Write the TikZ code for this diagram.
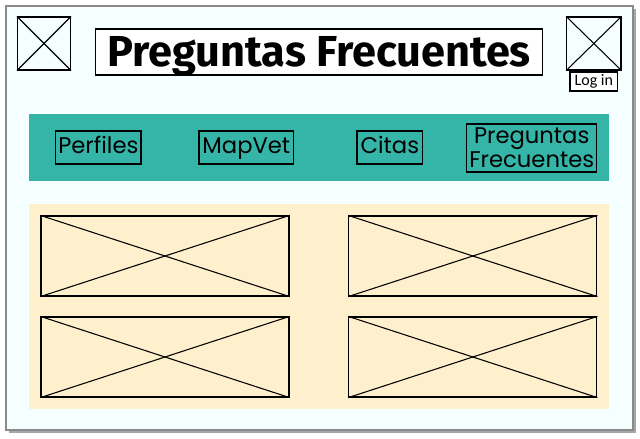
\documentclass[tikz,border=0pt]{standalone}
\usepackage{fontspec}
\newfontfamily\titlefont{Fira Sans}
\newfontfamily\menufont{Poppins}
\newfontfamily\loginfont{Carlito}
\definecolor{pagebg}{HTML}{F5FFFF}
\definecolor{bandteal}{HTML}{35B5A8}
\definecolor{gridbeige}{HTML}{FFF0CD}
\definecolor{framegray}{HTML}{8A8A8A}
\tikzset{
  imgbox/.style={draw=black, line width=0.9pt, inner sep=0pt},
  menubox/.style={draw=black, line width=0.8pt, inner sep=0pt, minimum height=24.75pt,
    text height=12pt, text depth=3.5pt, font=\menufont\fontsize{17}{17}\selectfont, align=center},
}
\begin{document}
\begin{tikzpicture}[x=0.75pt, y=-0.75pt]
    \useasboundingbox (0,0) rectangle (640,439);

    % Page frame with shadow
    \fill[gray!70] (9,9) rectangle (636,433);
    \draw[framegray, fill=pagebg, line width=0.8pt] (6,6) rectangle (633,430);

    % Header
    \node[imgbox, minimum width=39.75pt, minimum height=39.75pt] (logo) at (44,43.5) {};
    \node[imgbox, fill=white, minimum width=335.4pt, minimum height=34.5pt, text height=22pt, text depth=0pt,
      font=\titlefont\bfseries\fontsize{32.5}{32}\selectfont] (title) at (319.1,52) {Preguntas Frecuentes};
    \node[imgbox, minimum width=40.7pt, minimum height=39.75pt] (avatar) at (593.85,43.5) {};
    \node[draw=black, line width=0.8pt, fill=white, inner sep=0pt, minimum width=35.8pt, minimum height=14.25pt,
      text height=8pt, text depth=2pt, font=\loginfont\fontsize{12}{12}\selectfont] (login) at (593.85,81.5) {Log in};

    % Menu band
    \node[fill=bandteal, inner sep=0pt, minimum width=434.8pt, minimum height=50.25pt] (band) at (318.85,147.5) {};
    \node[menubox, minimum width=64pt] (perfiles) at (98.35,147.5) {Perfiles};
    \node[menubox, minimum width=71pt] (mapvet) at (246.35,147.5) {MapVet};
    \node[menubox, minimum width=49.3pt] (citas) at (389.85,147.5) {Citas};
    \node[menubox, minimum width=97.5pt, minimum height=36pt, text height=, text depth=,
      font=\menufont\fontsize{17}{18}\selectfont] (faq) at (531.7,148) {Preguntas\\Frecuentes};

    % Content grid
    \node[fill=gridbeige, inner sep=0pt, minimum width=434.8pt, minimum height=153.75pt] (grid) at (318.85,306.5) {};
    \node[imgbox, minimum width=186pt, minimum height=60pt] (card1) at (165,256) {};
    \node[imgbox, minimum width=186pt, minimum height=60pt] (card2) at (472.85,256) {};
    \node[imgbox, minimum width=186pt, minimum height=60pt] (card3) at (165,357) {};
    \node[imgbox, minimum width=186pt, minimum height=60pt] (card4) at (472.85,357) {};

    % Placeholder crosses
    \foreach \n in {logo,avatar,card1,card2,card3,card4}{
      \draw[line width=0.8pt] (\n.north west) -- (\n.south east);
      \draw[line width=0.8pt] (\n.south west) -- (\n.north east);
    }
\end{tikzpicture}
\end{document}
